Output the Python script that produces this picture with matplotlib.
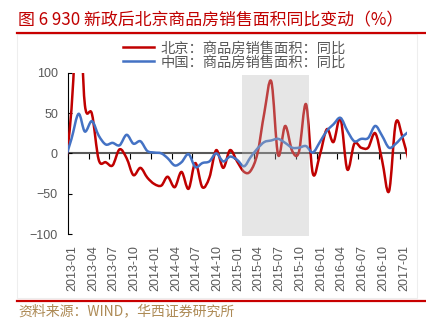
import numpy as np
import pandas as pd
import matplotlib
matplotlib.use('Agg')
import matplotlib.pyplot as plt
import matplotlib.dates as mdates
import matplotlib.transforms as mtransforms
from matplotlib.path import Path
from matplotlib.patches import PathPatch, Rectangle
from matplotlib.lines import Line2D

plt.rcParams['font.family'] = ['Liberation Sans', 'Noto Sans CJK SC', 'DejaVu Sans']

# monthly YoY of commodity housing sales area (%), dated mid-month
months = pd.date_range('2012-12-01', '2017-02-01', freq='MS') + pd.Timedelta(days=14)
beijing = [-30, 55, 190, 60, 49, -8, -11, -15, 5, -6, -27, -18, -30, -38, -40, -29,
           -42, -23, -44, -12, -42, -30, 4, -18, 4, -10, -23, -22, 0, 50, 89, -2,
           34, 3, 2, 61, -25, -2, 30, 14, 43, -20, 12, 7, 7, 25, -8, -47, 38, 18, -15]
china = [-10, 18, 49, 27, 40, 22, 11, 13, 10, 23, 12, 15, 3, 1, 0, -6,
         -15, -11, -1, -17, -12, -10, 0, -10, -4, -8, -16, -5, 6, 14, 16, 18,
         13, 7, 7, 9, 1, 14, 28, 36, 44, 28, 15, 18, 19, 34, 22, 7, 12, 21, 28]

labels = ['北京：商品房销售面积：同比', '中国：商品房销售面积：同比']
colors = ['#C00000', '#4472C4']
tick_dates = pd.date_range('2013-01-01', '2017-01-01', freq='3MS')
tick_labels = [d.strftime('%Y-%m') for d in tick_dates]
x_start, x_end = '2013-01-01', '2017-02-01'
shade_start, shade_end = '2015-02-06', '2015-11-27'

title = '图 6 930 新政后北京商品房销售面积同比变动（%）'
source = '资料来源：WIND，华西证券研究所'


def smooth_path(x, y):
    """Cubic Bezier path through the points (Catmull-Rom style smoothing)."""
    pts = np.column_stack([x, y]).astype(float)
    n = len(pts)
    verts = [pts[0]]
    codes = [Path.MOVETO]
    for i in range(n - 1):
        p0 = pts[max(i - 1, 0)]
        p1 = pts[i]
        p2 = pts[i + 1]
        p3 = pts[min(i + 2, n - 1)]
        verts += [p1 + (p2 - p0) / 6, p2 - (p3 - p1) / 6, p2]
        codes += [Path.CURVE4] * 3
    return Path(verts, codes)


fig = plt.figure(figsize=(4.27, 3.30), dpi=100)
ax = fig.add_axes([0.16, 0.2909, 0.7925, 0.4888])

xnum = mdates.date2num(months)
for series, color in zip([beijing, china], colors):
    patch = PathPatch(smooth_path(xnum, series), facecolor='none', edgecolor=color,
                      lw=1.8, capstyle='round', joinstyle='round', zorder=3)
    ax.add_patch(patch)

# highlighted period
x0 = mdates.date2num(pd.Timestamp(shade_start))
x1 = mdates.date2num(pd.Timestamp(shade_end))
ax.add_patch(Rectangle((x0, -103), x1 - x0, 200, facecolor='#b8b8b8', alpha=0.35,
                       edgecolor='none', zorder=4, clip_on=False))

ax.set_xlim(mdates.date2num(pd.Timestamp(x_start)), mdates.date2num(pd.Timestamp(x_end)))
ax.set_ylim(-100, 100)

# zero line with upward ticks
ax.axhline(0, color='#595959', lw=1.5, zorder=1)
sec = ax.secondary_xaxis(0.5)
sec.set_xticks(mdates.date2num(tick_dates), labels=[''] * len(tick_dates))
sec.tick_params(direction='in', length=4, width=0.8, color='black',
                labelbottom=False, labeltop=False)
sec.spines['bottom'].set_visible(False)
sec.spines['top'].set_visible(False)

ax.set_xticks(mdates.date2num(tick_dates))
ax.set_xticklabels(tick_labels, rotation=90, fontsize=9, color='#595959')
ax.tick_params(axis='x', length=0, pad=8)
offset = mtransforms.ScaledTranslation(0.044, 0, fig.dpi_scale_trans)
for lab in ax.get_xticklabels():
    lab.set_transform(lab.get_transform() + offset)

ax.set_yticks([-100, -50, 0, 50, 100])
ax.tick_params(axis='y', direction='in', length=3, width=0.8, pad=7.5,
               labelsize=9, labelcolor='#595959')

for side in ['top', 'right', 'bottom']:
    ax.spines[side].set_visible(False)
ax.spines['left'].set_linewidth(0.8)
ax.spines['left'].set_color('black')

handles = [Line2D([], [], color=c, lw=1.8) for c in colors]
fig.legend(handles, labels, loc='upper left', bbox_to_anchor=(0.288, 0.875),
           frameon=False, handlelength=2.2, handletextpad=0.45,
           labelspacing=0.0, borderpad=0, borderaxespad=0,
           labelcolor='#595959', prop={'family': ['Noto Sans CJK SC'], 'size': 10.3})

# header / footer
fig.text(18 / 427, 1 - 20 / 330, title, fontsize=12.2, color='#C00000',
         family=['Noto Sans CJK SC'], ha='left', va='center')
fig.add_artist(Line2D([17 / 427, 1], [1 - 32.5 / 330] * 2, color='#C80000', lw=1.6))
fig.add_artist(Line2D([17 / 427, 1], [1 - 300.7 / 330] * 2, color='#C80000', lw=1.6))
fig.add_artist(Rectangle((17 / 427, 1 - 298 / 330), 400 / 427, 264 / 330,
                         transform=fig.transFigure, facecolor='none',
                         edgecolor='#eeeeee', lw=0.8))
fig.text(18 / 427, 1 - 311 / 330, source, fontsize=10, color='#AD8A55',
         family=['Noto Sans CJK SC'], ha='left', va='center')

fig.savefig('out.png', dpi=100)
